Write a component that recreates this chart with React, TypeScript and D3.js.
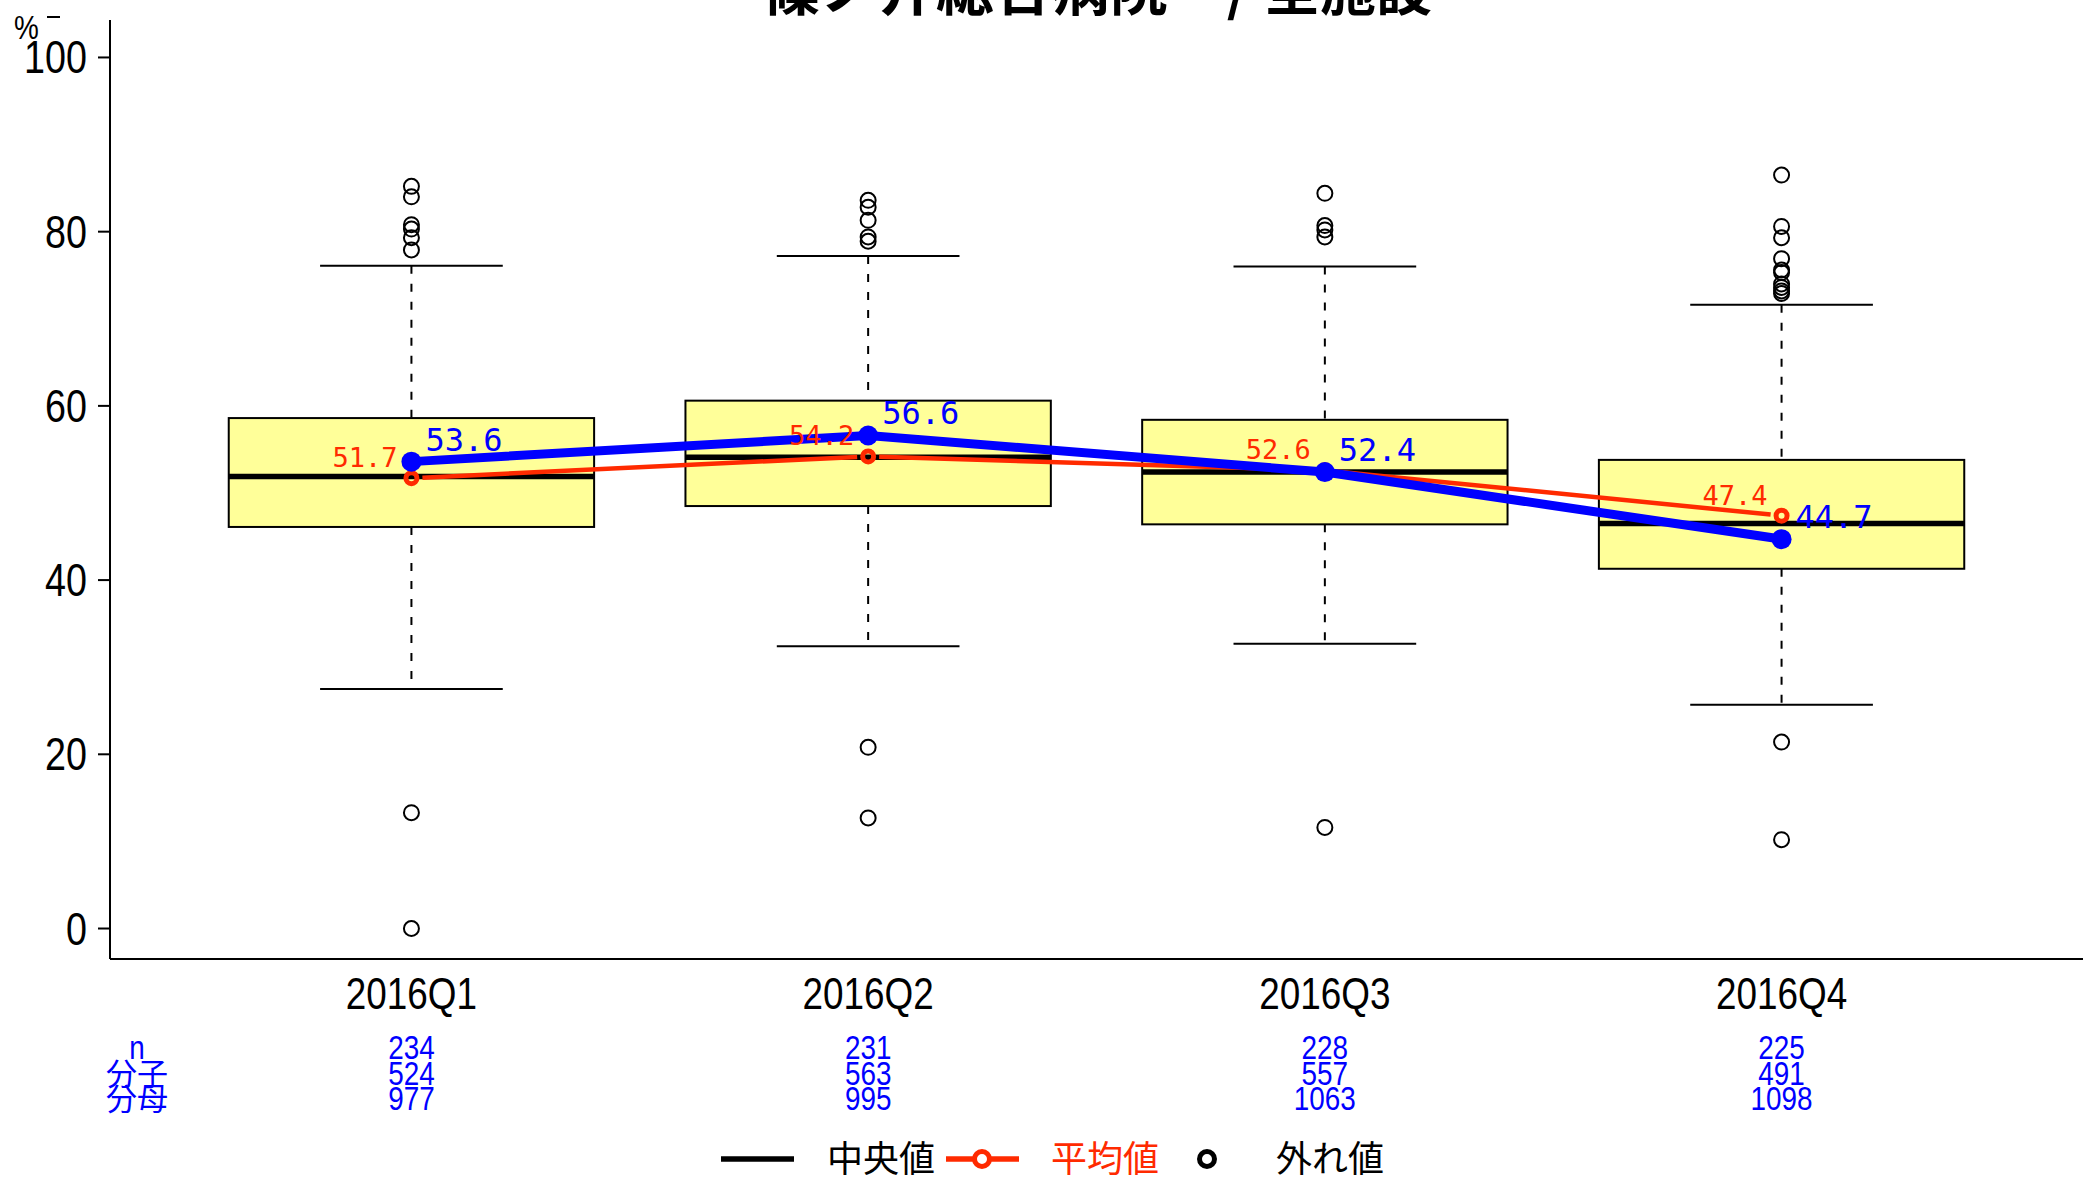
import React from "react";
import * as d3 from "d3";

const categories = ["2016Q1", "2016Q2", "2016Q3", "2016Q4"];
const whiskerLow = [27.5, 32.4, 32.7, 25.7];
const q1 = [46.1, 48.5, 46.4, 41.3];
const median = [51.9, 54.1, 52.4, 46.5];
const q3 = [58.6, 60.6, 58.4, 53.8];
const whiskerHigh = [76.1, 77.2, 76.0, 71.6];
const outliers = [
  [85.2, 84.0, 80.8, 80.3, 79.3, 77.9, 13.3, 0],
  [83.6, 82.8, 81.3, 79.4, 78.9, 20.8, 12.7],
  [84.4, 80.7, 80.2, 79.4, 11.6],
  [86.5, 80.6, 79.3, 76.9, 75.6, 75.3, 74.0, 73.6, 73.2, 72.9, 21.4, 10.2],
];
const meanValues = [51.7, 54.2, 52.6, 47.4];
const overallValues = [53.6, 56.6, 52.4, 44.7];
const nValues = [234, 231, 228, 225];
const numerators = [524, 563, 557, 491];
const denominators = [977, 995, 1063, 1098];
const yTicks = [0, 20, 40, 60, 80, 100];
const rowLabels = ["n", "分子", "分母"];
const titleLeft = "篠ノ井総合病院";
const titleSep = "/";
const titleRight = "全施設";

const W = 2089;
const H = 1180;
const NUM = "'Liberation Sans', Arial, sans-serif";
const CJK = "'Noto Sans CJK JP', 'Noto Sans', sans-serif";
const MONO = "'DejaVu Sans Mono', 'Liberation Mono', monospace";
const RED = "#ff2a00";
const BLUE = "#0000ff";

function Narrow({ x, y, size, anchor, fill, children }: any) {
  return (
    <g transform={`translate(${x},${y}) scale(0.82,1)`}>
      <text x={0} y={0} fontFamily={NUM} fontSize={size} textAnchor={anchor} fill={fill || "#000"}>
        {children}
      </text>
    </g>
  );
}

export default function App() {
  const x = d3.scaleLinear().domain([0.34, 4.66]).range([110, 2083]);
  const y = d3.scaleLinear().domain([-3.5, 104.3]).range([959, 20]);
  const step = x(2) - x(1);
  const boxHalf = step * 0.4;
  const capHalf = step * 0.2;
  const idx = categories.map((_, i) => i + 1);

  const blueLine = d3
    .line<number>()
    .x((_, i) => x(i + 1))
    .y((d) => y(d))(overallValues);

  const gap = 11;
  const redSegs = meanValues.slice(0, -1).map((v, i) => {
    const x0 = x(i + 1), y0 = y(v), x1 = x(i + 2), y1 = y(meanValues[i + 1]);
    const len = Math.hypot(x1 - x0, y1 - y0);
    const ux = (x1 - x0) / len, uy = (y1 - y0) / len;
    return { x0: x0 + ux * gap, y0: y0 + uy * gap, x1: x1 - ux * gap, y1: y1 - uy * gap };
  });

  return (
    <svg width={W} height={H} style={{ position: "absolute", left: 0, top: 0, background: "#fff" }}>
      <rect x={0} y={0} width={W} height={H} fill="#fff" />
      {/* title */}
      <g fontFamily={CJK} fontWeight="bold">
        <text x={1168} y={10} textAnchor="end" fontSize={58}>{titleLeft}</text>
        <text x={1238} y={10} textAnchor="middle" fontSize={58}>{titleSep}</text>
        <text x={1264} y={10} textAnchor="start" fontSize={56}>{titleRight}</text>
      </g>
      {/* % label */}
      <Narrow x={14} y={39} size={34} anchor="start">%</Narrow>
      <line x1={47} x2={60} y1={17} y2={17} stroke="#000" strokeWidth={2} />

      {/* axes */}
      <line x1={x(0.34)} x2={x(0.34)} y1={20} y2={959} stroke="#000" strokeWidth={2} />
      <line x1={x(0.34)} x2={2083} y1={959} y2={959} stroke="#000" strokeWidth={2} />
      {yTicks.map((t) => (
        <g key={t}>
          <line x1={98} x2={110} y1={y(t)} y2={y(t)} stroke="#000" strokeWidth={2} />
          <Narrow x={87} y={y(t) + 16} size={46} anchor="end">{t}</Narrow>
        </g>
      ))}
      {categories.map((c, i) => (
        <Narrow key={c} x={x(i + 1)} y={1009} size={45} anchor="middle">{c}</Narrow>
      ))}

      {/* boxes */}
      {idx.map((k, i) => (
        <g key={k}>
          <line x1={x(k)} x2={x(k)} y1={y(whiskerHigh[i])} y2={y(q3[i])} stroke="#000" strokeWidth={2} strokeDasharray="8,10" />
          <line x1={x(k)} x2={x(k)} y1={y(q1[i])} y2={y(whiskerLow[i])} stroke="#000" strokeWidth={2} strokeDasharray="8,10" />
          <line x1={x(k) - capHalf} x2={x(k) + capHalf} y1={y(whiskerHigh[i])} y2={y(whiskerHigh[i])} stroke="#000" strokeWidth={2} />
          <line x1={x(k) - capHalf} x2={x(k) + capHalf} y1={y(whiskerLow[i])} y2={y(whiskerLow[i])} stroke="#000" strokeWidth={2} />
          <rect x={x(k) - boxHalf} y={y(q3[i])} width={boxHalf * 2} height={y(q1[i]) - y(q3[i])} fill="#ffff99" stroke="#000" strokeWidth={2} />
          <line x1={x(k) - boxHalf} x2={x(k) + boxHalf} y1={y(median[i])} y2={y(median[i])} stroke="#000" strokeWidth={5.5} />
          {outliers[i].map((o, j) => (
            <circle key={j} cx={x(k)} cy={y(o)} r={7.5} fill="none" stroke="#000" strokeWidth={2} />
          ))}
        </g>
      ))}

      {/* red mean line */}
      {redSegs.map((s, i) => (
        <line key={i} x1={s.x0} y1={s.y0} x2={s.x1} y2={s.y1} stroke={RED} strokeWidth={4.5} />
      ))}
      {meanValues.map((v, i) => (
        <circle key={i} cx={x(i + 1)} cy={y(v)} r={5.5} fill="none" stroke={RED} strokeWidth={5} />
      ))}

      {/* blue overall line */}
      <path d={blueLine || ""} fill="none" stroke={BLUE} strokeWidth={9} />
      {overallValues.map((v, i) => (
        <circle key={i} cx={x(i + 1)} cy={y(v)} r={10} fill={BLUE} />
      ))}

      {/* labels */}
      {meanValues.map((v, i) => (
        <text key={i} x={x(i + 1) - 14} y={y(v) - 11} textAnchor="end" fontFamily={MONO} fontSize={27} fill={RED}>
          {v.toFixed(1)}
        </text>
      ))}
      {overallValues.map((v, i) => (
        <text key={i} x={x(i + 1) + 14} y={y(v) - 11} textAnchor="start" fontFamily={MONO} fontSize={32} fill={BLUE}>
          {v.toFixed(1)}
        </text>
      ))}

      {/* table under axis */}
      {[nValues, numerators, denominators].map((row, r) => (
        <g key={r}>
          {r === 0 ? (
            <Narrow x={137} y={1059} size={34} anchor="middle" fill={BLUE}>n</Narrow>
          ) : (
            <text x={137} y={1059 + r * 25.5} textAnchor="middle" fontFamily={CJK} fontSize={31} fill={BLUE}>
              {rowLabels[r]}
            </text>
          )}
          {row.map((v, i) => (
            <Narrow key={i} x={x(i + 1)} y={1059 + r * 25.5} size={34} anchor="middle" fill={BLUE}>{v}</Narrow>
          ))}
        </g>
      ))}

      {/* legend */}
      <line x1={721} x2={794} y1={1159} y2={1159} stroke="#000" strokeWidth={5.5} />
      <text x={827} y={1172} fontFamily={CJK} fontSize={36} fill="#000">中央値</text>
      <line x1={946} x2={1019} y1={1159} y2={1159} stroke={RED} strokeWidth={5.5} />
      <circle cx={982} cy={1159} r={7.5} fill="#fff" stroke={RED} strokeWidth={5} />
      <text x={1051} y={1172} fontFamily={CJK} fontSize={36} fill={RED}>平均値</text>
      <circle cx={1207} cy={1159} r={7.5} fill="none" stroke="#000" strokeWidth={5} />
      <text x={1276} y={1172} fontFamily={CJK} fontSize={36} fill="#000">外れ値</text>
    </svg>
  );
}
